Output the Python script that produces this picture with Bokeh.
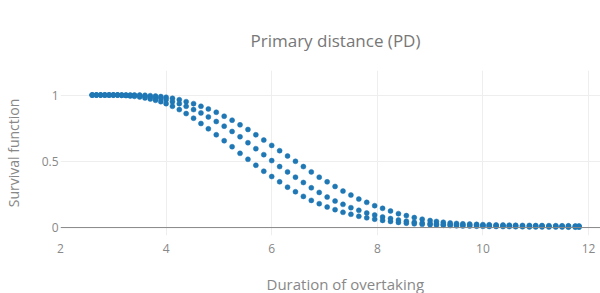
from bokeh.plotting import figure
from bokeh.models import Span, FixedTicker, Title
from bokeh.embed import file_html
from bokeh.resources import INLINE

# Data: time points and three survival curves (upper, estimate, lower)
duration = [2.60, 2.68, 2.76, 2.84, 2.92, 3.00, 3.08, 3.16, 3.24, 3.32, 3.40, 3.50, 3.60, 3.70, 3.80, 3.90, 4.00,
            4.12, 4.25, 4.38, 4.52, 4.66, 4.80, 4.95, 5.10, 5.25, 5.40, 5.55, 5.70, 5.85, 6.00, 6.15, 6.30, 6.45,
            6.60, 6.75, 6.90, 7.05, 7.20, 7.35, 7.50, 7.65, 7.80, 7.95, 8.10, 8.25, 8.40, 8.55, 8.70, 8.85, 9.00,
            9.12, 9.25, 9.38, 9.50, 9.62, 9.75, 9.88, 10.00, 10.12, 10.25, 10.38, 10.50, 10.62, 10.75, 10.88, 11.00,
            11.12, 11.25, 11.38, 11.50, 11.62, 11.75, 11.82]

upper = [1.0, 1.0, 1.0, 1.0, 1.0, 1.0, 1.0, 1.0, 1.0, 1.0, 1.0, 1.0, 0.998, 0.995, 0.992, 0.988, 0.983,
         0.975, 0.965, 0.95, 0.935, 0.915, 0.895, 0.87, 0.84, 0.81, 0.775, 0.74, 0.70, 0.66, 0.62, 0.58, 0.54, 0.50,
         0.46, 0.42, 0.38, 0.345, 0.31, 0.275, 0.245, 0.215, 0.19, 0.165, 0.145, 0.125, 0.105, 0.09, 0.075, 0.063, 0.053,
         0.046, 0.04, 0.035, 0.031, 0.028, 0.026, 0.024, 0.022, 0.021, 0.02, 0.019, 0.018, 0.017, 0.016, 0.016, 0.015,
         0.015, 0.014, 0.014, 0.013, 0.013, 0.012, 0.012]

estimate = [1.0, 1.0, 1.0, 1.0, 1.0, 1.0, 1.0, 0.998, 0.998, 0.997, 0.996, 0.995, 0.99, 0.985, 0.98, 0.975, 0.965,
            0.95, 0.935, 0.915, 0.89, 0.865, 0.835, 0.80, 0.765, 0.725, 0.685, 0.64, 0.595, 0.55, 0.505, 0.46, 0.42, 0.38,
            0.34, 0.30, 0.265, 0.23, 0.20, 0.175, 0.15, 0.13, 0.11, 0.095, 0.08, 0.068, 0.057, 0.048, 0.04, 0.034, 0.03,
            0.027, 0.025, 0.023, 0.021, 0.02, 0.019, 0.018, 0.017, 0.016, 0.015, 0.014, 0.013, 0.013, 0.012, 0.012, 0.011,
            0.011, 0.01, 0.01, 0.009, 0.009, 0.008, 0.008]

lower = [1.0, 1.0, 1.0, 1.0, 1.0, 1.0, 1.0, 0.998, 0.996, 0.993, 0.99, 0.985, 0.978, 0.97, 0.96, 0.95, 0.935,
         0.915, 0.89, 0.86, 0.825, 0.785, 0.745, 0.70, 0.655, 0.61, 0.56, 0.515, 0.47, 0.425, 0.385, 0.345, 0.305, 0.27,
         0.235, 0.205, 0.18, 0.155, 0.135, 0.115, 0.10, 0.085, 0.073, 0.063, 0.054, 0.046, 0.039, 0.033, 0.028, 0.024, 0.021,
         0.019, 0.017, 0.015, 0.013, 0.012, 0.011, 0.01, 0.009, 0.008, 0.008, 0.007, 0.007, 0.006, 0.006, 0.005, 0.005,
         0.005, 0.004, 0.004, 0.004, 0.003, 0.003, 0.003]

x_ticks = [2, 4, 6, 8, 10, 12]
y_ticks = [0, 0.5, 1]

TITLE = "Primary distance (PD)"
X_TITLE = "Duration of overtaking"
Y_TITLE = "Survival function"

FONT = "Open Sans"
BLUE = "#1f77b4"

p = figure(width=600, height=293, output_backend="svg", toolbar_location=None,
           x_range=(2.0, 12.227), y_range=(-0.06, 1.185),
           min_border_left=60, min_border_right=0, min_border_top=70, min_border_bottom=58)
p.outline_line_color = None
p.background_fill_color = "white"
p.border_fill_color = "white"

for ys in (upper, estimate, lower):
    p.scatter(duration, ys, size=5, fill_color=BLUE, line_color=BLUE, line_width=0.5)

p.xaxis.ticker = FixedTicker(ticks=x_ticks)
p.yaxis.ticker = FixedTicker(ticks=y_ticks)
p.xaxis.major_label_overrides = {2: "2", 4: "4", 6: "6", 8: "8", 10: "10", 12: "12"}
p.yaxis.major_label_overrides = {0: "0", 0.5: "0.5", 1: "1"}
for ax in (p.xaxis, p.yaxis):
    ax.axis_line_color = None
    ax.major_tick_line_color = None
    ax.minor_tick_line_color = None
    ax.major_tick_out = 0
    ax.major_tick_in = 0
    ax.major_label_text_font = FONT
    ax.major_label_text_font_size = "12px"
    ax.major_label_text_color = "#888888"
    ax.axis_label_text_font = FONT
    ax.axis_label_text_font_size = "14px"
    ax.axis_label_text_font_style = "normal"
    ax.axis_label_text_color = "#888888"
p.xaxis.major_label_standoff = 8
p.yaxis.major_label_standoff = 2
p.yaxis.axis_label = Y_TITLE
p.yaxis.axis_label_standoff = 16

p.xgrid.ticker = FixedTicker(ticks=x_ticks)
p.ygrid.ticker = FixedTicker(ticks=[0.5, 1])
p.xgrid.grid_line_color = "#eeeeee"
p.ygrid.grid_line_color = "#eeeeee"

zero = Span(location=0, dimension="width", line_color="#888888", line_width=1)
p.add_layout(zero)

p.title = Title(text=TITLE, align="left", offset=190, standoff=37,
                text_font=FONT, text_font_size="17px", text_font_style="normal", text_color="#777777")
spacer = Title(text=" ", text_font_size="1px", standoff=13)
p.add_layout(spacer, "below")
p.add_layout(Title(text=X_TITLE, align="left", offset=206, standoff=0,
                   text_font=FONT, text_font_size="15px", text_font_style="normal", text_color="#888888"), "below")

open("out.html", "w").write(file_html(p, INLINE))
